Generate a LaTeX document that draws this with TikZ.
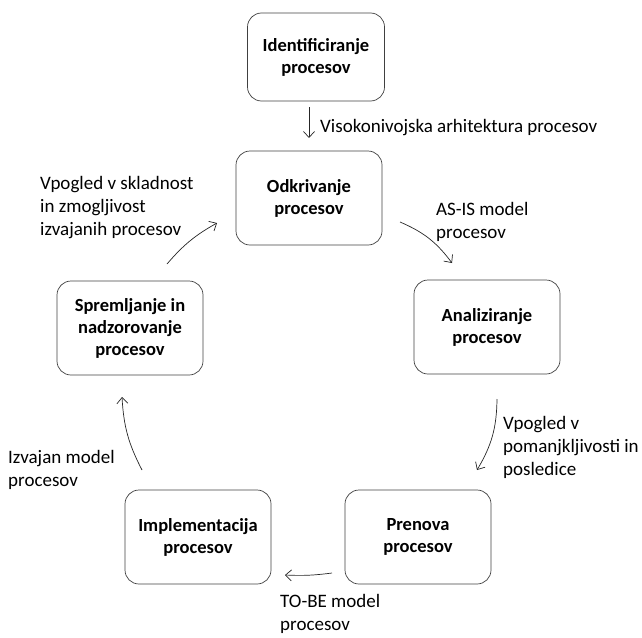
\documentclass[tikz,border=0pt]{standalone}
\usepackage{fontspec}
\setmainfont{Carlito}
\usepackage{tikz}
\usetikzlibrary{arrows.meta, positioning}
\tikzset{
    korak/.style = {draw = black!75, line width = 0.7pt, rounded corners = 14pt, minimum width = 146pt, minimum height = 94pt, align = center, font = \fontsize{18.5}{22}\selectfont\bfseries},
    opis/.style = {align = left, inner sep = 0pt, font = \fontsize{19}{23}\selectfont},
    puscica/.style = {draw = black!85, line width = 0.7pt, -{Straight Barb[length = 6pt, width = 11pt]}}
}

\begin{document}
\begin{tikzpicture}[x = 1pt, y = -1pt]
    \useasboundingbox (0,0) rectangle (642,637);

    % Koraki
    \node[korak, minimum width = 137pt, minimum height = 88pt] (Ident) at (316,57) {Identificiranje\\procesov};
    \node[korak] (Odkriv) at (309,198) {Odkrivanje\\procesov};
    \node[korak] (Analiz) at (487,327) {Analiziranje\\procesov};
    \node[korak] (Preno) at (418,537) {Prenova\\procesov};
    \node[korak] (Impl) at (198,537) {Implementacija\\procesov};
    \node[korak] (Sprem) at (130,328) {Spremljanje in\\nadzorovanje\\procesov};

    % Konci puscic
    \coordinate (IdentOdkrivA) at (309,107);
    \coordinate (IdentOdkrivB) at (309,138);
    \coordinate (OdkrivAnalizA) at (400,222);
    \coordinate (OdkrivAnalizB) at (452,263);
    \coordinate (AnalizPrenoA) at (497,399);
    \coordinate (AnalizPrenoB) at (477,470);
    \coordinate (PrenoImplA) at (332,573);
    \coordinate (PrenoImplB) at (285,575);
    \coordinate (ImplSpremA) at (142,470);
    \coordinate (ImplSpremB) at (122,397);
    \coordinate (SpremOdkrivA) at (167,264);
    \coordinate (SpremOdkrivB) at (217,223);

    % Puscice
    \draw[puscica] (IdentOdkrivA) -- (IdentOdkrivB);
    \draw[puscica] (OdkrivAnalizA) to[bend left = 15] (OdkrivAnalizB);
    \draw[puscica] (AnalizPrenoA) to[bend left = 15] (AnalizPrenoB);
    \draw[puscica] (PrenoImplA) to[bend left = 5] (PrenoImplB);
    \draw[puscica] (ImplSpremA) to[bend left = 12] (ImplSpremB);
    \draw[puscica] (SpremOdkrivA) to[bend left = 10] (SpremOdkrivB);

    % Opisi
    \node[opis, anchor = west] (VisoArh) at (320,128) {Visokonivojska arhitektura procesov};
    \node[opis, anchor = north west] (AsIs) at (436,202) {AS-IS model\\procesov};
    \node[opis, anchor = north west] (Pomanj) at (503,416) {Vpogled v\\pomanjkljivosti in\\posledice};
    \node[opis, anchor = north west] (ToBe) at (280,594) {TO-BE model\\procesov};
    \node[opis, anchor = north west] (Izvaj) at (8,450) {Izvajan model\\procesov};
    \node[opis, anchor = north west] (Sklad) at (40,176) {Vpogled v skladnost\\in zmogljivost\\izvajanih procesov};
\end{tikzpicture}
\end{document}
